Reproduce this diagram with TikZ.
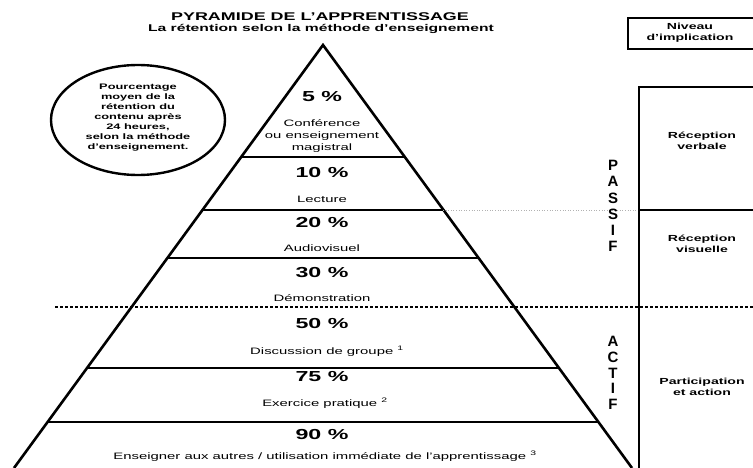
\documentclass[tikz,border=0pt]{standalone}
\usepackage{fontspec}
\setmainfont{Liberation Sans}[FakeStretch=1.6]
\newfontfamily\plainsans{Liberation Sans}
\usetikzlibrary{shapes.geometric}
\newcommand{\fsz}[2]{\fontsize{#1}{#2}\selectfont}
\tikzset{
  pyr/.style={line width=2.6pt},
  tier/.style={line width=1.8pt},
  col/.style={line width=2.4pt},
  dotline/.style={line width=2pt, dash pattern=on 3pt off 2pt},
  pct/.style={font=\fsz{14.5}{16}\bfseries, inner sep=0pt},
  lab/.style={font=\fsz{9.3}{12}, inner sep=0pt, align=center},
  side/.style={font=\fsz{8.8}{11}\bfseries, inner sep=0pt, align=center},
  vert/.style={inner sep=0pt, align=center},
}
\begin{document}
\begin{tikzpicture}[x=1pt,y=-1pt]
\useasboundingbox (0,0) rectangle (753,468);
% title
\node[font=\fsz{11.2}{13}\bfseries, inner sep=0pt] (title) at (320,17) {PYRAMIDE DE L’APPRENTISSAGE};
\node[font=\fsz{9.8}{12}\bfseries, inner sep=0pt] (subtitle) at (321,29) {La rétention selon la méthode d’enseignement};
% ellipse
\node[draw, line width=2.4pt, ellipse, minimum width=174pt, minimum height=110pt, inner sep=0pt] (ell) at (138,120) {};
\node[font=\fsz{8}{10}\bfseries, align=center, inner sep=0pt] (elltext) at (138,118) {Pourcentage\\moyen de la\\rétention du\\contenu après\\24 heures,\\selon la méthode\\d’enseignement.};
% pyramid
\coordinate (apex) at (323,45);
\coordinate (bl) at (14,468);
\coordinate (br) at (632,468);
\draw[pyr, line join=miter] (bl) -- (apex) -- (br);
\foreach \yy/\nm in {157/t1,210/t2,258/t3,368/t5,422/t6}{
  \pgfmathsetmacro{\dx}{0.73*(\yy-45)}
  \coordinate (\nm l) at ({323-\dx},\yy);
  \coordinate (\nm r) at ({323+\dx},\yy);
  \draw[tier] (\nm l) -- (\nm r);
}
% faint dotted line
\coordinate (gd1) at (443,210);
\coordinate (gd2) at (639,210);
\draw[gray!60, line width=0.6pt, dotted] (gd1) -- (gd2);
% dotted separator
\coordinate (ds1) at (55,307);
\coordinate (ds2) at (753,307);
\draw[dotline] (ds1) -- (ds2);
% pyramid texts
\node[pct] (p5) at (322,97) {5 \%};
\node[lab] (l5) at (322,136) {Conférence\\ou enseignement\\magistral};
\node[pct] (p10) at (322,173) {10 \%};
\node[lab] (l10) at (322,199) {Lecture};
\node[pct] (p20) at (322,223) {20 \%};
\node[lab] (l20) at (322,248) {Audiovisuel};
\node[pct] (p30) at (322,273) {30 \%};
\node[lab] (l30) at (322,298) {Démonstration};
\node[pct] (p50) at (322,324) {50 \%};
\node[lab] (l50) at (327,351) {Discussion de groupe \textsuperscript{1}};
\node[pct] (p75) at (322,377) {75 \%};
\node[lab] (l75) at (325,403) {Exercice pratique \textsuperscript{2}};
\node[pct] (p90) at (322,435) {90 \%};
\node[lab] (l90) at (325,456) {Enseigner aux autres / utilisation immédiate de l’apprentissage \textsuperscript{3}};
% PASSIF / ACTIF
\node[vert, font=\plainsans\fsz{15}{16.2}\bfseries] (passif) at (613,206) {P\\A\\S\\S\\I\\F};
\node[vert, font=\plainsans\fsz{15}{15.6}\bfseries] (actif) at (613,373) {A\\C\\T\\I\\F};
% right column
\node[draw, line width=1.8pt, minimum width=130pt, minimum height=31pt, inner sep=0pt, anchor=north west] (niv) at (627,17) {};
\node[side] (nivtext) at (690,33) {Niveau\\d’implication};
\coordinate (c1) at (639,87);
\coordinate (c2) at (639,470);
\coordinate (c3) at (755,87);
\coordinate (c4) at (755,210);
\coordinate (c5) at (639,210);
\draw[col] (c3) -- (c1) -- (c2);
\draw[tier] (c5) -- (c4);
\node[side] (rv) at (702,141) {Réception\\verbale};
\node[side] (rvis) at (702,244) {Réception\\visuelle};
\node[side] (pa) at (702,387) {Participation\\et action};
\end{tikzpicture}
\end{document}
